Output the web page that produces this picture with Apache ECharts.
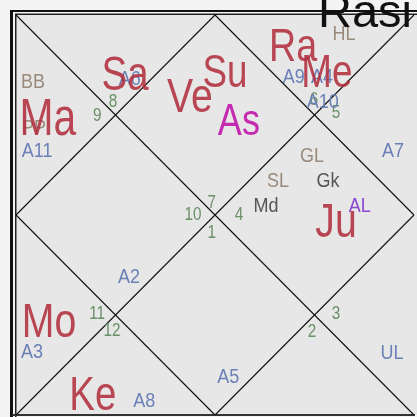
<!DOCTYPE html>
<html>
<head>
<meta charset="utf-8">
<script src="https://cdn.jsdelivr.net/npm/echarts@6/dist/echarts.min.js"></script>
<style>html,body{margin:0;padding:0;background:#f4f4f4;}#c{width:417px;height:417px;}</style>
</head>
<body>
<div id="c"></div>
<script>
// Chart units: 0..100 across the square, y grows downward.
const chartTitle = 'Rasi';

// House frame segments (corners, diagonals, diamond)
const frameSegments = [
  [[0, 0], [100, 100]],
  [[100, 0], [0, 100]],
  [[50, 0], [100, 50]],
  [[100, 50], [50, 100]],
  [[50, 100], [0, 50]],
  [[0, 50], [50, 0]]
];

// House (sign) numbers
const houseNumbers = ['1', '2', '3', '4', '5', '6', '7', '8', '9', '10', '11', '12'];
const houseNumX = [49.2, 74.4, 80.4, 56.0, 80.4, 74.9, 49.2, 24.4, 20.4, 44.5, 20.4, 24.1];
const houseNumY = [54.2, 79.0, 74.5, 49.7, 24.2, 21.0, 46.7, 21.5, 25.0, 49.7, 74.5, 78.7];

// Planets
const planetNames = ['Sa', 'Ve', 'Su', 'Ra', 'Me', 'Ma', 'Ju', 'Mo', 'Ke'];
const planetX = [27.4, 43.7, 52.5, 69.6, 78.1, 8.0, 80.4, 8.3, 19.3];
const planetY = [14.5, 20.0, 14.0, 7.5, 14.0, 25.7, 51.2, 76.2, 94.5];

// Ascendant
const lagnaNames = ['As'];
const lagnaX = [56.0];
const lagnaY = [26.0];

// Arudha padas
const arudhaNames = ['A2', 'A3', 'A4', 'A5', 'A6', 'A7', 'A8', 'A9', 'A10', 'A11', 'UL'];
const arudhaX = [28.4, 4.0, 76.9, 53.3, 28.6, 94.7, 32.2, 69.8, 77.1, 5.3, 94.5];
const arudhaY = [65.2, 84.0, 15.2, 90.2, 15.7, 33.7, 96.2, 15.2, 21.5, 33.7, 84.2];

// Arudha lagna
const alNames = ['AL'];
const alX = [86.4];
const alY = [47.5];

// Special lagnas
const specialNames = ['BB', 'PP', 'HL', 'GL', 'SL'];
const specialX = [4.3, 4.5, 82.4, 74.4, 65.8];
const specialY = [16.5, 28.0, 4.5, 35.0, 41.2];

// Upagrahas
const upaNames = ['Gk', 'Md'];
const upaX = [78.4, 62.8];
const upaY = [41.2, 47.5];

const planetSize = {Sa: 48, Ve: 49, Su: 46, Ra: 47, Me: 46, Ma: 51, Ju: 49, Mo: 49, Ke: 48, As: 45};

function textSeries(names, xs, ys, opt) {
  return {
    type: 'custom',
    coordinateSystem: 'cartesian2d',
    z: opt.z,
    silent: true,
    data: names.map((n, i) => [xs[i], ys[i]]),
    renderItem: function (params, api) {
      const p = api.coord([api.value(0), api.value(1)]);
      const name = names[params.dataIndex];
      const size = opt.sizeMap ? opt.sizeMap[name] : opt.size;
      return {
        type: 'text',
        x: p[0],
        y: p[1] + size * 0.07,
        scaleX: opt.scaleX,
        style: {
          text: name,
          x: 0,
          y: 0,
          fill: opt.color,
          opacity: opt.opacity || 1,
          fontSize: size,
          fontFamily: 'Liberation Sans, Arial, sans-serif',
          align: 'center',
          verticalAlign: 'middle'
        }
      };
    }
  };
}

const chart = echarts.init(document.getElementById('c'), null, {renderer: 'canvas'});
chart.setOption({
  animation: false,
  backgroundColor: '#f4f4f4',
  grid: {left: 16, top: 15, width: 398, height: 400, show: false},
  xAxis: {type: 'value', min: 0, max: 100, show: false},
  yAxis: {type: 'value', min: 0, max: 100, inverse: true, show: false},
  graphic: [
    {type: 'rect', z: -10, shape: {x: 15, y: 14, width: 402, height: 401}, style: {fill: '#e7e7e7'}},
    {type: 'rect', z: -5, shape: {x: 10, y: 10, width: 3, height: 407}, style: {fill: '#111'}},
    {type: 'rect', z: -5, shape: {x: 15, y: 14, width: 1.5, height: 403}, style: {fill: '#222'}},
    {type: 'rect', z: -5, shape: {x: 10, y: 10, width: 407, height: 2}, style: {fill: '#111'}},
    {type: 'rect', z: -5, shape: {x: 15, y: 13.5, width: 402, height: 1.5}, style: {fill: '#222'}},
    {type: 'rect', z: -5, shape: {x: 12, y: 414, width: 403, height: 2}, style: {fill: '#333'}},
    {type: 'text', z: 100, left: 318, top: -9, style: {text: chartTitle, fill: '#111', fontSize: 47, fontFamily: 'Liberation Sans, Arial, sans-serif'}}
  ],
  series: [
    {
      type: 'lines',
      coordinateSystem: 'cartesian2d',
      silent: true,
      z: 1,
      lineStyle: {color: '#111', width: 1.1, opacity: 1},
      data: frameSegments.map(s => ({coords: s}))
    },
    textSeries(houseNumbers, houseNumX, houseNumY, {color: '#6a9068', size: 18, scaleX: 0.85, z: 3}),
    textSeries(specialNames, specialX, specialY, {color: '#9a8a7c', size: 20, scaleX: 0.9, z: 3}),
    textSeries(upaNames, upaX, upaY, {color: '#555555', size: 20, scaleX: 0.9, z: 3}),
    textSeries(arudhaNames, arudhaX, arudhaY, {color: '#6b80b6', size: 20, scaleX: 0.9, z: 3}),
    textSeries(alNames, alX, alY, {color: '#8a48d0', size: 20, scaleX: 0.9, z: 3}),
    textSeries(planetNames, planetX, planetY, {color: '#b22f3d', opacity: 0.88, sizeMap: planetSize, scaleX: 0.8, z: 5}),
    textSeries(lagnaNames, lagnaX, lagnaY, {color: '#c52bb0', sizeMap: planetSize, scaleX: 0.8, z: 5})
  ]
});
</script>
</body>
</html>
